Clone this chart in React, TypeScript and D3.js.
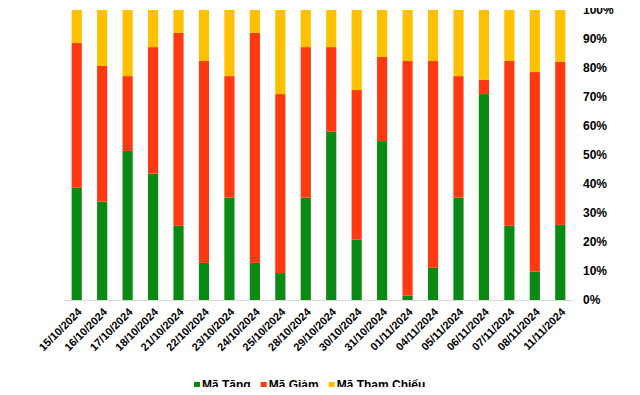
import { useEffect, useRef } from "react";
import * as d3 from "d3";

const dates = [
  "15/10/2024", "16/10/2024", "17/10/2024", "18/10/2024", "21/10/2024",
  "22/10/2024", "23/10/2024", "24/10/2024", "25/10/2024", "28/10/2024",
  "29/10/2024", "30/10/2024", "31/10/2024", "01/11/2024", "04/11/2024",
  "05/11/2024", "06/11/2024", "07/11/2024", "08/11/2024", "11/11/2024",
];
const maTang = [38.7, 33.9, 51.4, 43.6, 25.6, 12.8, 35.3, 12.8, 9.3, 35.3, 58.0, 20.8, 54.8, 1.5, 11.1, 35.3, 71.0, 25.6, 9.8, 25.9];
const maGiam = [49.9, 46.8, 25.8, 43.6, 66.5, 69.6, 41.9, 79.3, 61.7, 51.9, 29.2, 51.6, 29.0, 80.9, 71.3, 41.9, 4.9, 56.8, 68.8, 56.2];
const maThamChieu = [11.4, 19.3, 22.8, 12.8, 7.9, 17.6, 22.8, 7.9, 29.0, 12.8, 12.8, 27.6, 16.2, 17.6, 17.6, 22.8, 24.1, 17.6, 21.4, 17.9];
const seriesNames = ["Mã Tăng", "Mã Giảm", "Mã Tham Chiếu"];
const colors = ["#0A8A12", "#FF3A12", "#FFC000"];
const yTicks = [0, 0.1, 0.2, 0.3, 0.4, 0.5, 0.6, 0.7, 0.8, 0.9, 1];

const App: React.FC = () => {
  const ref = useRef<HTMLDivElement>(null);

  useEffect(() => {
    const width = 640;
    const height = 395;
    const m = { top: 10, right: 67, bottom: 95, left: 64 };

    const svg = d3.select(ref.current)
      .selectAll("svg")
      .data([null])
      .join("svg")
      .attr("width", width)
      .attr("height", height)
      .style("display", "block")
      .style("font-family", "'Liberation Sans', Arial, sans-serif");
    svg.selectAll("*").remove();

    // 각 날짜의 비율 (합계 100%)
    const rows = dates.map((d, i) => {
      const total = maTang[i] + maGiam[i] + maThamChieu[i];
      return { date: d, s0: maTang[i] / total, s1: maGiam[i] / total, s2: maThamChieu[i] / total };
    });
    const stacked = d3.stack<any>().keys(["s0", "s1", "s2"])(rows);

    const x = d3.scaleBand()
      .domain(dates)
      .range([m.left, width - m.right])
      .paddingInner(0.6)
      .paddingOuter(0.3);
    const y = d3.scaleLinear()
      .domain([0, 1])
      .range([height - m.bottom, m.top]);

    // 막대
    svg.append("g")
      .selectAll("g")
      .data(stacked)
      .join("g")
      .attr("fill", (_, i) => colors[i])
      .selectAll("rect")
      .data(d => d)
      .join("rect")
      .attr("x", d => x(d.data.date) as number)
      .attr("width", x.bandwidth())
      .attr("y", d => y(d[1]))
      .attr("height", d => y(d[0]) - y(d[1]));

    // x 축 라인
    svg.append("line")
      .attr("x1", m.left)
      .attr("x2", width - m.right)
      .attr("y1", y(0) + 0.5)
      .attr("y2", y(0) + 0.5)
      .attr("stroke", "#d9d9d9")
      .attr("stroke-width", 1);

    // y 축 라벨 (오른쪽)
    svg.append("g")
      .selectAll("text")
      .data(yTicks)
      .join("text")
      .attr("x", width - m.right + 10)
      .attr("y", d => y(d))
      .attr("dy", "0.35em")
      .attr("font-size", 12)
      .attr("font-weight", "bold")
      .attr("fill", "#000")
      .text(d => d3.format(".0%")(d));

    // x 축 라벨
    svg.append("g")
      .selectAll("text")
      .data(dates)
      .join("text")
      .attr("transform", d => `translate(${(x(d) as number) + x.bandwidth() / 2 + 3},${y(0) + 10}) rotate(-45)`)
      .attr("text-anchor", "end")
      .attr("dy", "0.35em")
      .attr("font-size", 11)
      .attr("font-weight", "bold")
      .attr("fill", "#000")
      .text(d => d);

    // 범례
    const legend = svg.append("g").attr("transform", "translate(194,385)");
    let lx = 0;
    seriesNames.forEach((name, i) => {
      legend.append("rect")
        .attr("x", lx)
        .attr("y", -3)
        .attr("width", 6)
        .attr("height", 6)
        .attr("fill", colors[i]);
      const t = legend.append("text")
        .attr("x", lx + 8)
        .attr("y", 0)
        .attr("dy", "0.35em")
        .attr("font-size", 12)
        .attr("font-weight", "bold")
        .attr("fill", "#000")
        .text(name);
      const w = (t.node() as SVGTextElement).getComputedTextLength();
      lx += 8 + w + 10;
    });
  }, []);

  return <div ref={ref} style={{ margin: -8 }} />;
};

export default App;
